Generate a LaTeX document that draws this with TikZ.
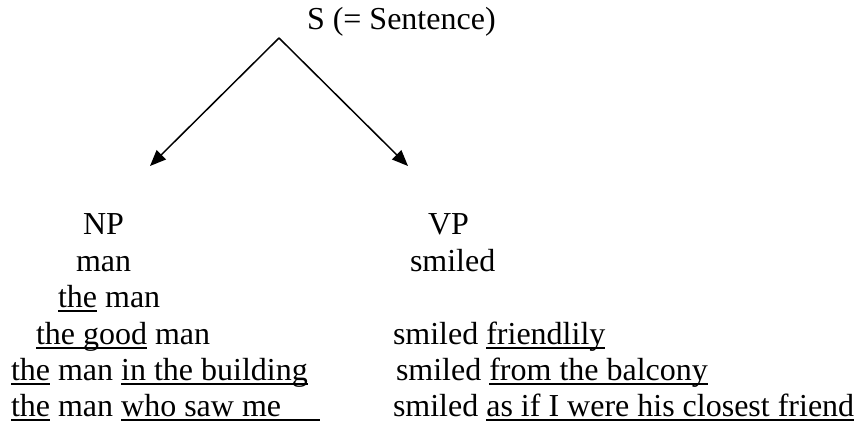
\documentclass[tikz,border=0pt]{standalone}
\usepackage{fontspec}
\setmainfont{Liberation Serif}
\usetikzlibrary{arrows.meta}
\newcommand\ulx[1]{\setbox0=\hbox{#1}\rlap{\rule[-4.5pt]{\wd0}{1.6pt}}\box0\relax}
\tikzset{
  txt/.style={anchor=base west, inner sep=0pt, outer sep=0pt, font=\fontsize{32}{36}\selectfont},
  arr/.style={line width=1.5pt, -{Triangle[length=16pt,width=13pt]}}
}
\begin{document}
\begin{tikzpicture}[x=1pt,y=-1pt]
\useasboundingbox (0,0) rectangle (857,425);
\node[txt] (s) at (307,30) {S (= Sentence)};
\coordinate (apex) at (279,38);
\coordinate (ltip) at (150,166);
\coordinate (rtip) at (408,166);
\draw[arr] (apex) -- (ltip);
\draw[arr] (apex) -- (rtip);
% left column
\node[txt] (np) at (83,234) {NP};
\node[txt] (n1) at (76,271) {man};
\node[txt] (n2) at (58,307) {\ulx{the} man};
\node[txt] (n3) at (36,344) {\ulx{the good} man};
\node[txt] (n4) at (11,380) {\ulx{the} man \ulx{in the building}};
\node[txt] (n5) at (11,416) {\ulx{the} man \ulx{who saw me\hspace{39pt}}};
% right column
\node[txt] (vp) at (428,234) {VP};
\node[txt] (v1) at (410,271) {smiled};
\node[txt] (v3) at (393,344) {smiled \ulx{friendlily}};
\node[txt] (v4) at (396,380) {smiled \ulx{from the balcony}};
\node[txt] (v5) at (393,416) {smiled \ulx{as if I were his closest friend}};
\end{tikzpicture}
\end{document}
